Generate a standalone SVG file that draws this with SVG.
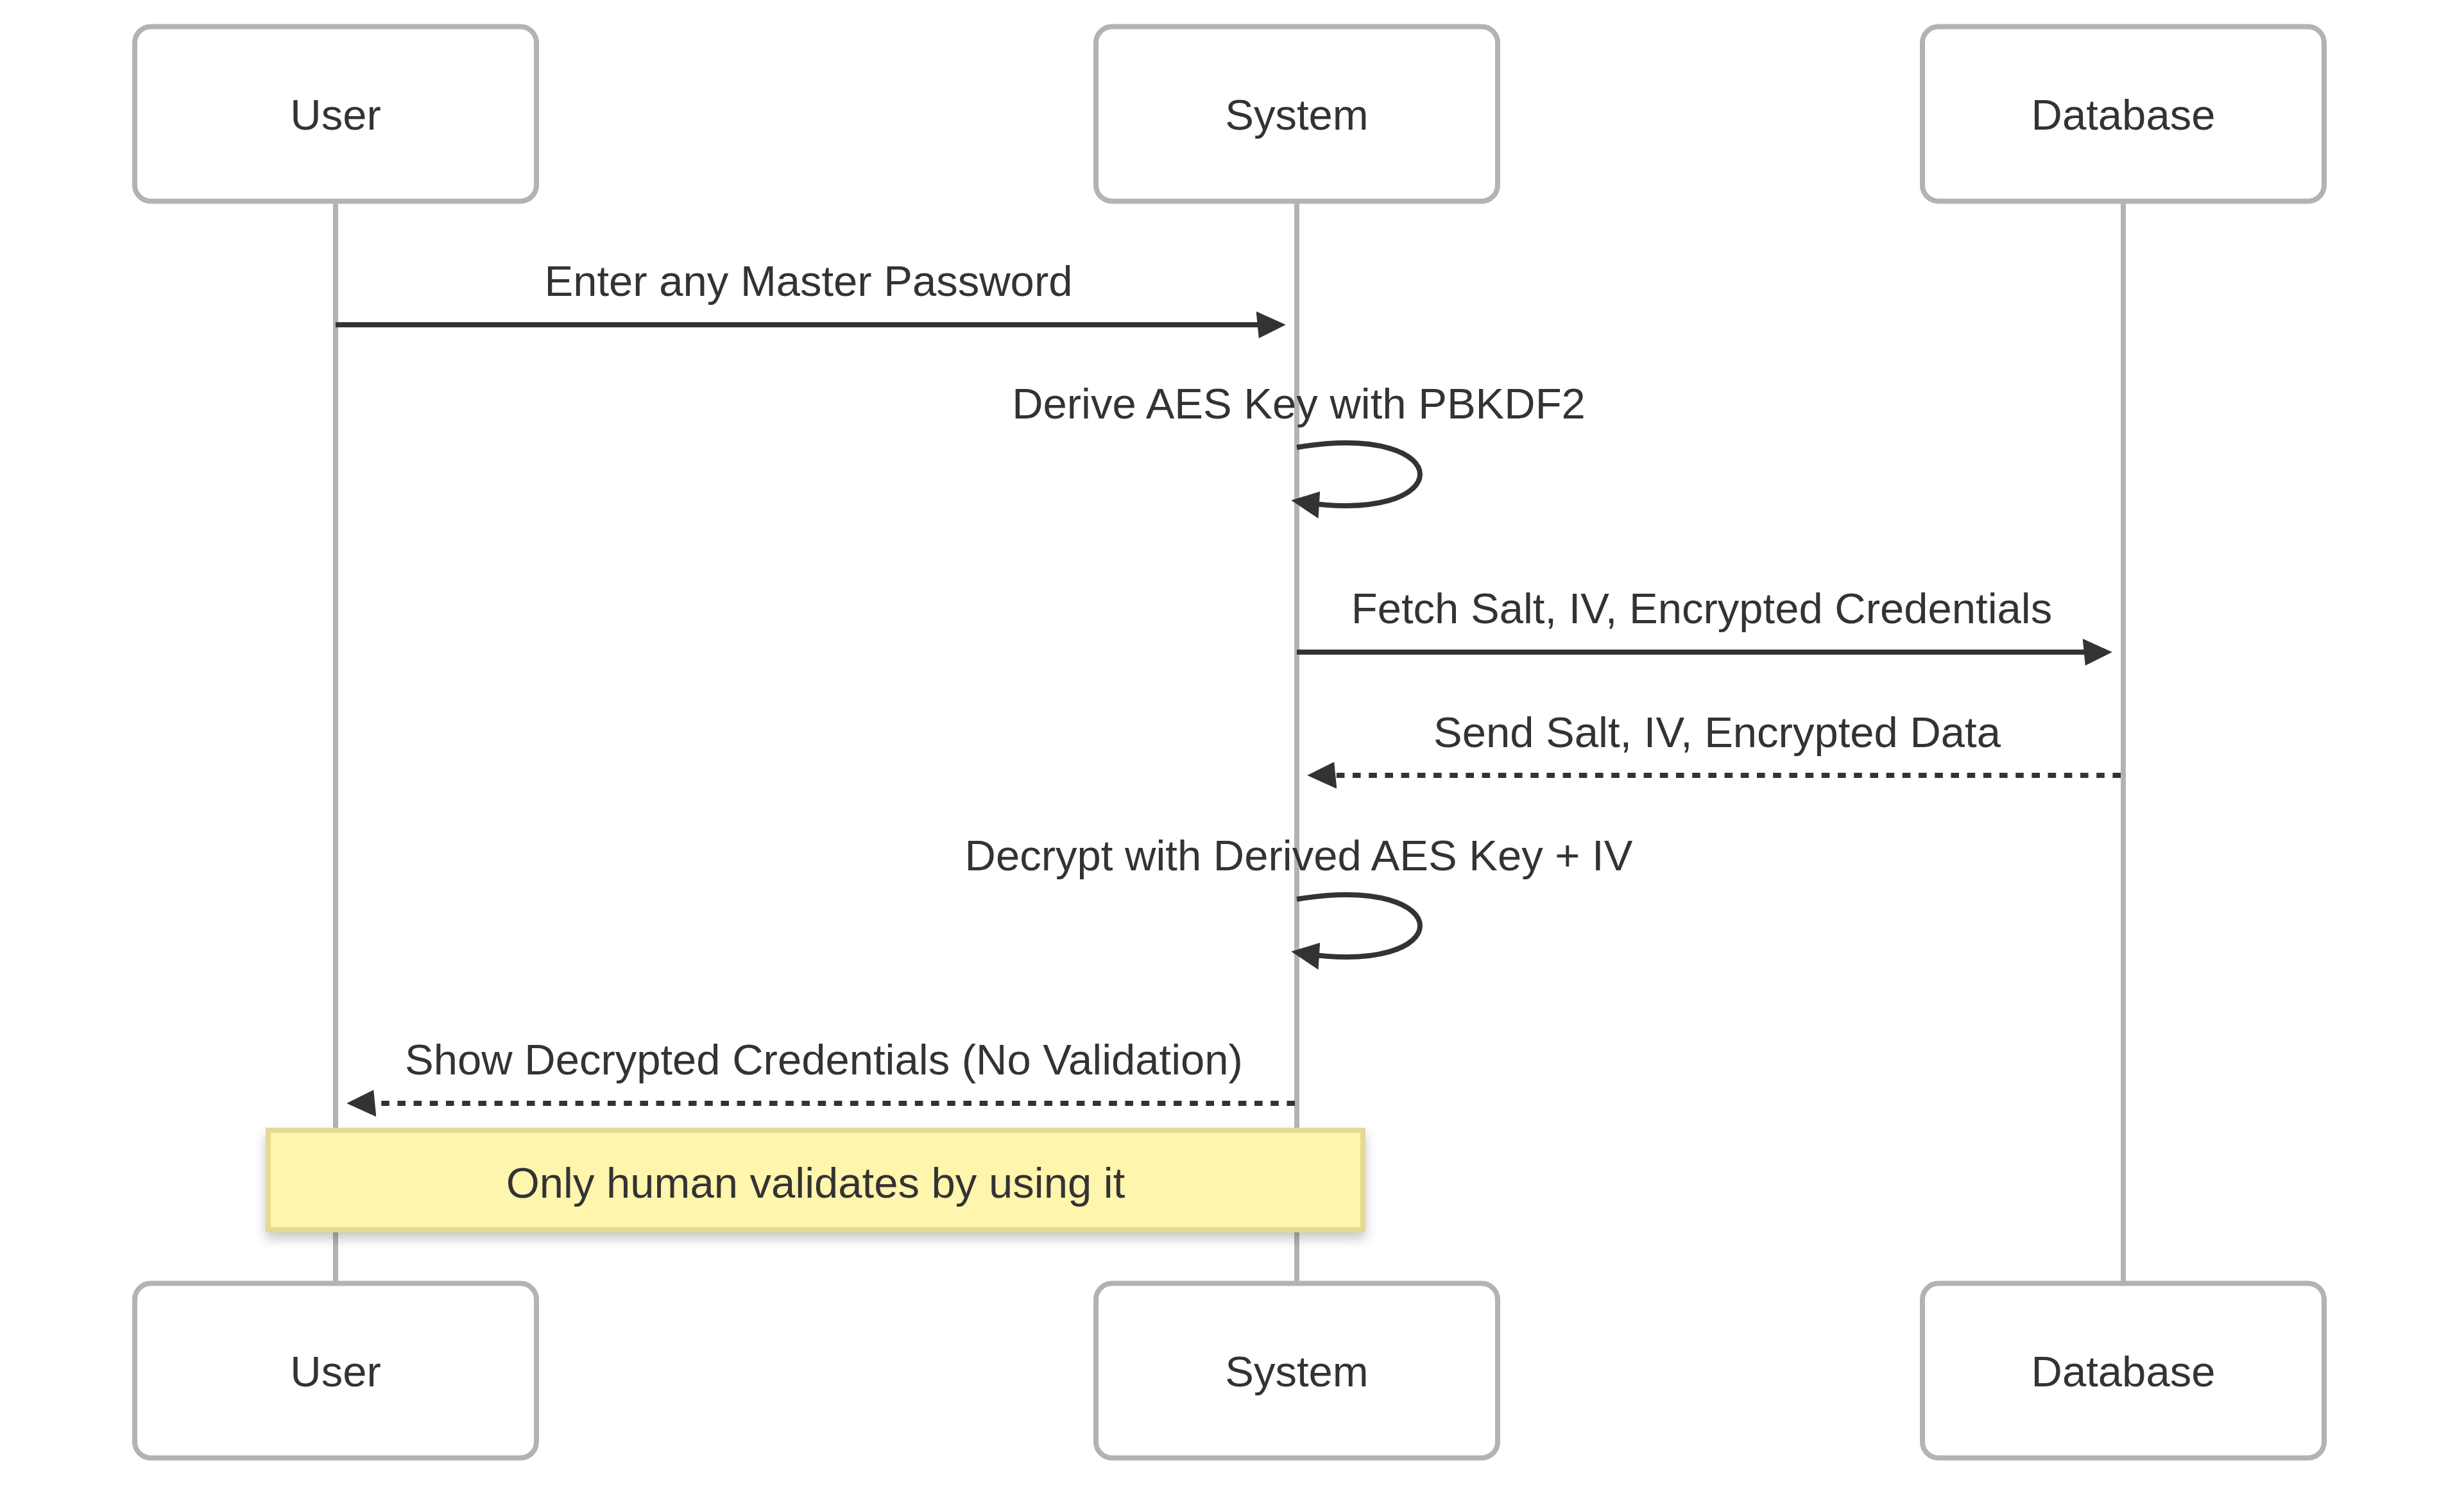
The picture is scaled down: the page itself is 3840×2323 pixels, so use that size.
<svg xmlns="http://www.w3.org/2000/svg" width="3840" height="2323" viewBox="0 0 3840 2323">
<style>
.actor{fill:#ffffff;stroke:#b3b3b3;stroke-width:8}
.lifeline{stroke:#b3b3b3;stroke-width:8}
.lbl{font-family:"Liberation Sans",Arial,Helvetica,sans-serif;font-size:67px;fill:#333333;text-anchor:middle}
.msg{fill:none;stroke:#333333;stroke-width:8}
.dash{stroke-dasharray:12.6 12.6}
.note{fill:#fff5ad;stroke:#e3da94;stroke-width:8}
</style>
<defs>
<marker id="ah" viewBox="-1 0 12 10" refX="7.9" refY="5" markerWidth="50.4" markerHeight="42" markerUnits="userSpaceOnUse" orient="auto-start-reverse">
<path d="M -1 0 L 10 5 L 0 10 z" fill="#333333"/>
</marker>
<filter id="shadow" x="-5%" y="-20%" width="110%" height="150%">
<feDropShadow dx="0" dy="10" stdDeviation="9" flood-color="#000000" flood-opacity="0.22"/>
</filter>
</defs>
<rect x="0" y="0" width="3840" height="2323" fill="#ffffff"/>
<g id="lifelines">
<line class="lifeline" x1="523" y1="313" x2="523" y2="1999"/>
<line class="lifeline" x1="2021" y1="313" x2="2021" y2="1999"/>
<line class="lifeline" x1="3309" y1="313" x2="3309" y2="1999"/>
</g>
<g id="actor-user-top"><rect class="actor" x="210" y="41.5" width="626" height="272" rx="25"/><text class="lbl" x="523" y="202">User</text></g>
<g id="actor-system-top"><rect class="actor" x="1708" y="41.5" width="626" height="272" rx="25"/><text class="lbl" x="2021" y="202">System</text></g>
<g id="actor-database-top"><rect class="actor" x="2996" y="41.5" width="626" height="272" rx="25"/><text class="lbl" x="3309" y="202">Database</text></g>
<g id="actor-user-bottom"><rect class="actor" x="210" y="1999.5" width="626" height="272" rx="25"/><text class="lbl" x="523" y="2160">User</text></g>
<g id="actor-system-bottom"><rect class="actor" x="1708" y="1999.5" width="626" height="272" rx="25"/><text class="lbl" x="2021" y="2160">System</text></g>
<g id="actor-database-bottom"><rect class="actor" x="2996" y="1999.5" width="626" height="272" rx="25"/><text class="lbl" x="3309" y="2160">Database</text></g>
<g id="connectors">
<text class="lbl" x="1260" y="461">Enter any Master Password</text>
<line class="msg" x1="523" y1="506" x2="1995" y2="506" marker-end="url(#ah)"/>
<text class="lbl" x="2024" y="652">Derive AES Key with PBKDF2</text>
<path class="msg" d="M 2021,697 C 2277,655 2277,823 2021,781" marker-end="url(#ah)"/>
<text class="lbl" x="2652" y="971">Fetch Salt, IV, Encrypted Credentials</text>
<line class="msg" x1="2021" y1="1016" x2="3283" y2="1016" marker-end="url(#ah)"/>
<text class="lbl" x="2676" y="1164">Send Salt, IV, Encrypted Data</text>
<line class="msg dash" x1="3305" y1="1208" x2="2046" y2="1208" marker-end="url(#ah)"/>
<text class="lbl" x="2024" y="1356">Decrypt with Derived AES Key + IV</text>
<path class="msg" d="M 2021,1401 C 2277,1359 2277,1526 2021,1484" marker-end="url(#ah)"/>
<text class="lbl" x="1284" y="1674">Show Decrypted Credentials (No Validation)</text>
<line class="msg dash" x1="2018" y1="1719" x2="549" y2="1719" marker-end="url(#ah)"/>
</g>
<g id="note">
<rect class="note" x="418" y="1761" width="1706" height="155" filter="url(#shadow)"/>
<text class="lbl" x="1271" y="1866">Only human validates by using it</text>
</g>
</svg>
